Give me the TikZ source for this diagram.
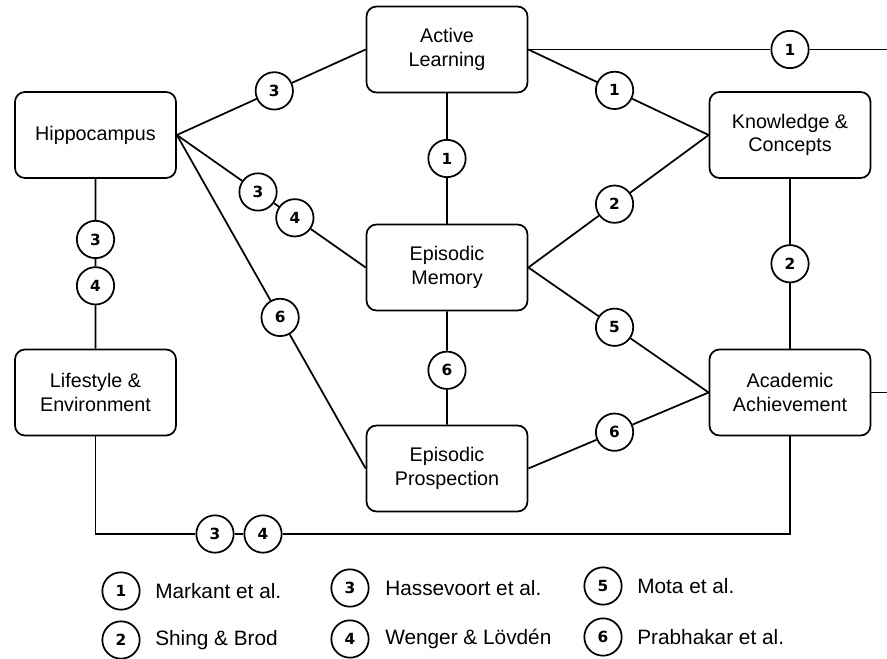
\documentclass[tikz,border=0pt]{standalone}
\usepackage{fontspec}
\setmainfont{Liberation Sans}
\newfontfamily\numfont{DejaVu Sans}
\usetikzlibrary{calc}
\begin{document}
\begin{tikzpicture}[x=0.75pt,y=-0.75pt,
  box/.style={draw, rounded corners=7.5pt, line width=1.3pt, minimum width=120.75pt, minimum height=64.5pt, align=center, inner sep=0pt, font=\fontsize{14.8}{17.5}\selectfont},
  num/.style={draw, circle, line width=1.3pt, minimum size=28pt, inner sep=0pt, font=\numfont\bfseries\fontsize{11.5}{11.5}\selectfont},
  link/.style={line width=1.3pt},
  legtext/.style={anchor=west, inner sep=0pt, font=\fontsize{15.6}{18}\selectfont}]
\useasboundingbox (0,0) rectangle (887,659);
% boxes
\node[box] (hip) at (95.5,135) {Hippocampus};
\node[box] (al) at (447,49.5) {Active\\Learning};
\node[box] (kc) at (790,135) {Knowledge \&\\Concepts};
\node[box] (em) at (447,267.5) {Episodic\\Memory};
\node[box] (life) at (95.5,392.5) {Lifestyle \&\\Environment};
\node[box] (ep) at (447,468.5) {Episodic\\Prospection};
\node[box] (aa) at (790,392.5) {Academic\\Achievement};
% free ends
\coordinate (r1) at (887,49.5);
\coordinate (r2) at (887,392.5);
\coordinate (bl) at (95.5,534);
\coordinate (br) at (790,534);
% circles on connectors
\node[num] (c1) at ($(hip.east)!0.516!(al.west)$) {3};
\node[num] (c2) at ($(hip.east)!0.43!(em.west)$) {3};
\node[num] (c3) at ($(hip.east)!0.625!(em.west)$) {4};
\node[num] (c4) at ($(hip.east)!0.547!(ep.west)$) {6};
\node[num] (c5) at ($(hip.south)!0.357!(life.north)$) {3};
\node[num] (c6) at ($(hip.south)!0.63!(life.north)$) {4};
\node[num] (c7) at ($(al.south)!0.5!(em.north)$) {1};
\node[num] (c8) at ($(al.east)!0.478!(kc.west)$) {1};
\node[num] (c9) at ($(em.east)!0.478!(kc.west)$) {2};
\node[num] (c10) at ($(em.east)!0.478!(aa.west)$) {5};
\node[num] (c11) at ($(ep.east)!0.478!(aa.west)$) {6};
\node[num] (c12) at (790,49.5) {1};
\node[num] (c13) at ($(kc.south)!0.5!(aa.north)$) {2};
\node[num] (c14) at ($(em.south)!0.52!(ep.north)$) {6};
\node[num] (c15) at (215,534) {3};
\node[num] (c16) at (263,534) {4};
% connectors
\draw[link] (hip.east) -- (c1) -- (al.west);
\draw[link] (hip.east) -- (c2) -- (c3) -- (em.west);
\draw[link] (hip.east) -- (c4) -- (ep.west);
\draw[link] (hip.south) -- (c5) -- (c6) -- (life.north);
\draw[link] (al.south) -- (c7) -- (em.north);
\draw[link] (al.east) -- (c8) -- (kc.west);
\draw[link] (em.east) -- (c9) -- (kc.west);
\draw[link] (em.east) -- (c10) -- (aa.west);
\draw[link] (ep.east) -- (c11) -- (aa.west);
\draw[link] (al.east) -- (c12) -- (r1);
\draw[link] (kc.south) -- (c13) -- (aa.north);
\draw[link] (em.south) -- (c14) -- (ep.north);
\draw[link] (aa.east) -- (r2);
\draw[link] (life.south) -- (bl) -- (c15) -- (c16) -- (br) -- (aa.south);
% legend
\node[num] (l1) at (121,591) {1};
\node[legtext] (t1) at (155,591) {Markant et al.};
\node[num] (l2) at (121,640) {2};
\node[legtext] (t2) at (155,640) {Shing \& Brod};
\node[num] (l3) at (350,588) {3};
\node[legtext] (t3) at (385,588) {Hassevoort et al.};
\node[num] (l4) at (350,639) {4};
\node[legtext] (t4) at (385,639) {Wenger \& Lövdén};
\node[num] (l5) at (603,586) {5};
\node[legtext] (t5) at (637,586) {Mota et al.};
\node[num] (l6) at (603,637) {6};
\node[legtext] (t6) at (637,637) {Prabhakar et al.};
\end{tikzpicture}
\end{document}
